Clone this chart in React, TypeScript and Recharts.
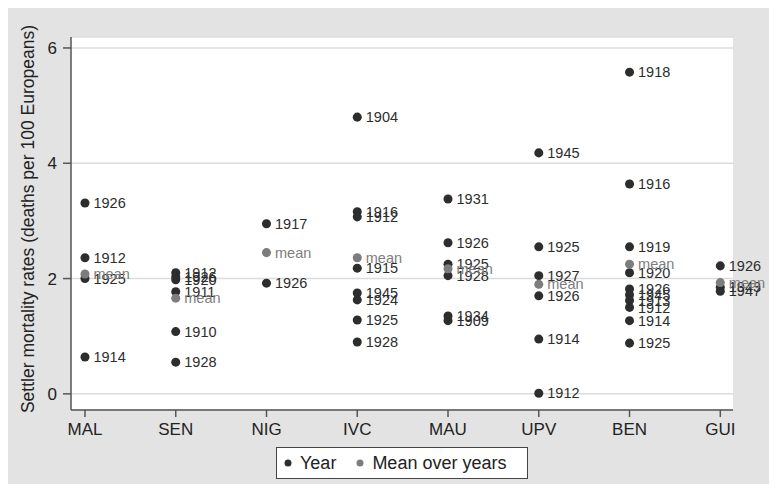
import { ScatterChart, Scatter, XAxis, YAxis, ZAxis, CartesianGrid, LabelList, Legend, Label } from 'recharts'

// Countries along the x axis, left to right
const countries = ['MAL', 'SEN', 'NIG', 'IVC', 'MAU', 'UPV', 'BEN', 'GUI']

// Year labels and the rate read for each one (same order)
const yearLabels = [
  [1926, 1912, 1925, 1914],
  [1912, 1926, 1920, 1911, 1910, 1928],
  [1917, 1926],
  [1904, 1916, 1912, 1915, 1945, 1924, 1925, 1928],
  [1931, 1926, 1925, 1928, 1934, 1909],
  [1945, 1925, 1927, 1926, 1914, 1912],
  [1918, 1916, 1919, 1920, 1926, 1945, 1913, 1912, 1914, 1925],
  [1926, 1943, 1947],
]
const yearRates = [
  [3.31, 2.36, 2.0, 0.64],
  [2.1, 2.03, 1.98, 1.77, 1.08, 0.55],
  [2.95, 1.92],
  [4.8, 3.16, 3.07, 2.18, 1.75, 1.63, 1.28, 0.9],
  [3.38, 2.62, 2.25, 2.05, 1.35, 1.27],
  [4.18, 2.55, 2.05, 1.7, 0.95, 0.01],
  [5.58, 3.64, 2.55, 2.1, 1.82, 1.72, 1.62, 1.5, 1.27, 0.88],
  [2.22, 1.85, 1.78],
]
const meanRates = [2.08, 1.66, 2.45, 2.36, 2.17, 1.9, 2.25, 1.93]

const seriesNames = ['Year', 'Mean over years']
const yTicks = [0, 2, 4, 6]
const xTicks = countries.map((_, i) => i + 1)

const yearData = yearLabels.flatMap((yrs, i) =>
  yrs.map((y, j) => ({ x: i + 1, rate: yearRates[i][j], label: String(y) }))
)
const meanData = meanRates.map((m, i) => ({ x: i + 1, rate: m, label: 'mean' }))

const DARK = '#2d2d2d'
const MID = '#7d7d7d'

function LegendBox(props: any) {
  const items = [...(props.payload || [])].sort(
    (a: any, b: any) => seriesNames.indexOf(a.value) - seriesNames.indexOf(b.value)
  )
  return (
    <div
      style={{
        boxSizing: 'border-box',
        width: 252,
        height: 32,
        background: '#fff',
        border: '1px solid #444',
        display: 'flex',
        alignItems: 'center',
        paddingLeft: 7,
        fontSize: 18,
        color: '#222',
      }}
    >
      {items.map((it: any, i: number) => (
        <span key={i} style={{ display: 'flex', alignItems: 'center', marginRight: 20 }}>
          <svg width={8} height={8} style={{ marginRight: 8 }}>
            <circle cx={4} cy={4} r={3.5} fill={it.color} />
          </svg>
          {it.value}
        </span>
      ))}
    </div>
  )
}

export default function App() {
  return (
    <div
      style={{
        width: 761,
        height: 476,
        background: '#e3e3e3',
        fontFamily: '"Liberation Sans", Arial, sans-serif',
        position: 'relative',
      }}
    >
      <ScatterChart width={761} height={476} margin={{ top: 29, right: 36, bottom: 44, left: 0 }}>
        <CartesianGrid vertical={false} fill="#fff" stroke="#dcdcdc" strokeWidth={1.5} />
        <XAxis
          type="number"
          dataKey="x"
          domain={[0.846, 8.14]}
          ticks={xTicks}
          tickFormatter={(v) => countries[v - 1]}
          height={30}
          tickSize={7}
          tickMargin={6}
          stroke="#555"
          strokeWidth={1.5}
          tick={{ fill: '#222', fontSize: 17 }}
          allowDataOverflow
        />
        <YAxis
          type="number"
          dataKey="rate"
          domain={[-0.28, 6.19]}
          ticks={yTicks}
          width={63}
          tickSize={8}
          tickMargin={6}
          stroke="#555"
          strokeWidth={1.5}
          tick={{ fill: '#222', fontSize: 17 }}
          allowDataOverflow
        >
          <Label
            content={() => (
              <text
                x={20}
                y={211}
                transform="rotate(-90 20 211)"
                textAnchor="middle"
                dominantBaseline="central"
                fontSize={17.5}
                fill="#222"
              >
                Settler mortality rates (deaths per 100 Europeans)
              </text>
            )}
          />
        </YAxis>
        <ZAxis range={[64, 64]} />
        <Scatter name="Year" data={yearData} fill={DARK} isAnimationActive={false}>
          <LabelList dataKey="label" position="right" offset={4} fill={DARK} fontSize={14.5} />
        </Scatter>
        <Scatter name="Mean over years" data={meanData} fill={MID} isAnimationActive={false}>
          <LabelList dataKey="label" position="right" offset={4} fill={MID} fontSize={14.5} />
        </Scatter>
        <Legend
          layout="horizontal"
          verticalAlign="middle"
          align="center"
          wrapperStyle={{ top: 439, left: 268, width: 252, height: 32 }}
          content={LegendBox}
        />
      </ScatterChart>
    </div>
  )
}
